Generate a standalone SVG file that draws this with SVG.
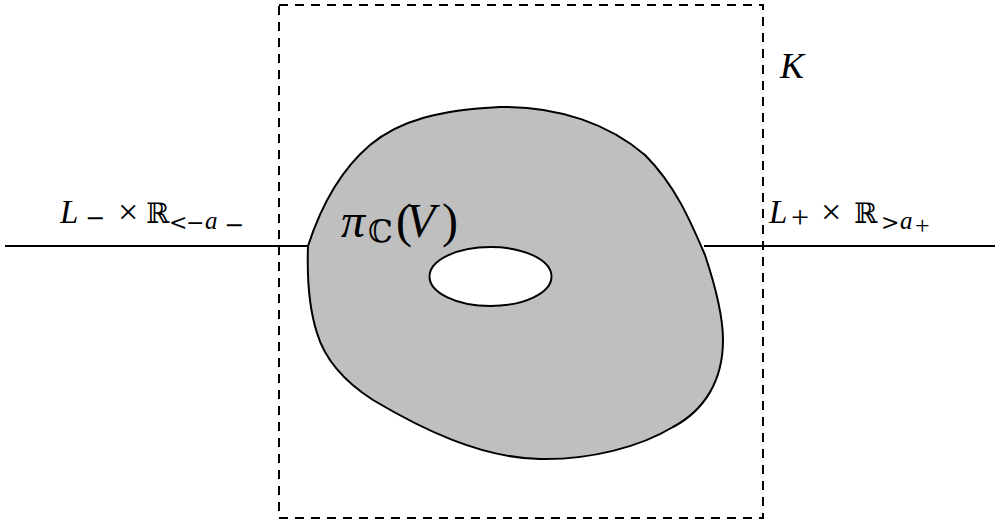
<svg xmlns="http://www.w3.org/2000/svg" width="1000" height="525" viewBox="0 0 1000 525">
<style>
.ln{stroke:#000;stroke-width:2;fill:none}
.dash{stroke:#000;stroke-width:2;fill:none;stroke-dasharray:9,7}
.t{font-family:"Liberation Serif","DejaVu Serif",serif;fill:#000}
.i{font-style:italic}
.bb{font-family:"DejaVu Serif",serif}
</style>
<rect width="1000" height="525" fill="#fff"/>
<g id="connectors">
<line class="ln" x1="5" y1="246" x2="309" y2="246"/>
<line class="ln" x1="704" y1="246" x2="995" y2="246"/>
</g>
<g id="region">
<path d="M308,246 C318,215 335,175 370,145 C400,120 440,110 500,107 C560,106 610,125 645,155 C675,185 690,220 705,255 C715,285 723,315 723,340 C723,380 705,410 673,427 C640,447 590,460 540,459 C480,458 420,428 373,400 C345,382 325,360 317,333 C308,305 307,275 308,246 Z" fill="#bfbfbf" stroke="#000" stroke-width="2"/>
<ellipse cx="490.5" cy="276.5" rx="61" ry="29.5" fill="#fff" stroke="#000" stroke-width="2"/>
</g>
<g id="K">
<rect class="dash" x="279" y="5" width="484" height="513"/>
<text class="t i" x="780" y="78" font-size="36">K</text>
</g>
<g id="label-left">
<text class="t" font-size="33"><tspan class="i" x="60" y="223">L</tspan><tspan class="bb" x="85" y="226" font-size="24">−</tspan><tspan x="118" y="224" font-size="36">×</tspan><tspan class="bb" x="146" y="223" font-size="28">ℝ</tspan><tspan class="bb" x="169" y="230" font-size="22">&lt;</tspan><tspan class="bb" x="186" y="230" font-size="22">−</tspan><tspan class="i" x="205" y="229" font-size="25">a</tspan><tspan class="bb" x="224" y="233" font-size="24">−</tspan></text>
</g>
<g id="label-right">
<text class="t" font-size="33"><tspan class="i" x="769" y="223">L</tspan><tspan x="791" y="228" font-size="32">+</tspan><tspan x="821" y="224" font-size="36">×</tspan><tspan class="bb" x="854" y="223" font-size="28">ℝ</tspan><tspan class="bb" x="881" y="230" font-size="22">&gt;</tspan><tspan class="i" x="900" y="229" font-size="25">a</tspan><tspan x="915" y="234" font-size="26">+</tspan></text>
</g>
<g id="label-pi">
<text class="t" font-size="48"><tspan class="i" x="341" y="237">π</tspan><tspan class="bb" x="368" y="242" font-size="31">ℂ</tspan><tspan x="396" y="237">(</tspan><tspan class="i" x="406" y="237">V</tspan><tspan x="442" y="237">)</tspan></text>
</g>
</svg>
